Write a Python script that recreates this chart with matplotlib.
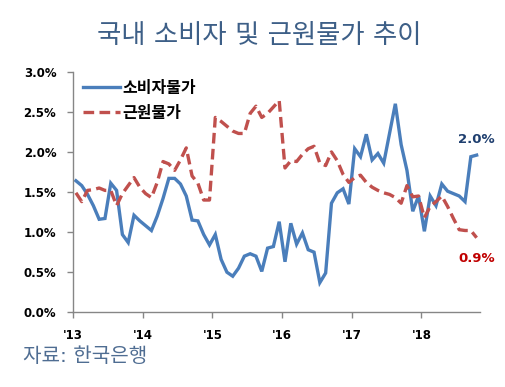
import matplotlib
matplotlib.use("Agg")
import matplotlib.pyplot as plt
import numpy as np

plt.rcParams['font.family'] = ['Noto Sans CJK KR', 'DejaVu Sans']

title = "국내 소비자 및 근원물가 추이"
source = "자료: 한국은행"
series_names = ["소비자물가", "근원물가"]
year_labels = ["'13", "'14", "'15", "'16", "'17", "'18"]
y_ticks = [0.0, 0.5, 1.0, 1.5, 2.0, 2.5, 3.0]

# monthly, Jan 2013 .. Oct 2018
cpi = [1.64, 1.58, 1.47, 1.33, 1.16, 1.17, 1.61, 1.52, 0.97, 0.87, 1.21, 1.14,
       1.08, 1.02, 1.20, 1.42, 1.67, 1.67, 1.60, 1.45, 1.15, 1.14, 0.97, 0.84,
       0.97, 0.66, 0.50, 0.45, 0.55, 0.70, 0.73, 0.70, 0.51, 0.80, 0.82, 1.13,
       0.63, 1.11, 0.85, 0.99, 0.78, 0.75, 0.37, 0.49, 1.36, 1.49, 1.54, 1.35,
       2.04, 1.94, 2.22, 1.90, 1.98, 1.86, 2.23, 2.60, 2.09, 1.77, 1.26, 1.45,
       1.01, 1.45, 1.33, 1.60, 1.51, 1.48, 1.45, 1.38, 1.94, 1.96]
core = [1.49, 1.38, 1.52, 1.53, 1.55, 1.52, 1.52, 1.33, 1.48, 1.58, 1.68, 1.56,
        1.48, 1.43, 1.62, 1.88, 1.85, 1.77, 1.90, 2.05, 1.70, 1.61, 1.40, 1.40,
        2.43, 2.38, 2.32, 2.26, 2.23, 2.23, 2.48, 2.57, 2.43, 2.48, 2.56, 2.64,
        1.80, 1.89, 1.88, 1.97, 2.04, 2.07, 1.86, 1.83, 2.00, 1.89, 1.72, 1.62,
        1.68, 1.71, 1.62, 1.56, 1.52, 1.49, 1.47, 1.43, 1.36, 1.58, 1.44, 1.45,
        1.18, 1.32, 1.38, 1.45, 1.32, 1.17, 1.03, 1.02, 1.02, 0.93]
end_labels = ["2.0%", "0.9%"]

blue = "#4a7ebb"
red = "#c0504d"

fig = plt.figure(figsize=(5.05, 3.87), dpi=100)
ax = fig.add_axes([0.1446, 0.193, 0.805, 0.6217])

x = np.arange(len(cpi))
l1, = ax.plot(x, cpi, color=blue, lw=2.4, solid_joinstyle='miter', label=series_names[0])
l2, = ax.plot(x, core, color=red, lw=2.4, ls=(0, (3.2, 1.6)), label=series_names[1])

ax.set_xlim(-0.5, len(cpi) - 0.5)
ax.set_ylim(0, 3.0)
ax.set_yticks(y_ticks)
ax.set_yticklabels([f"{v:.1f}%" for v in y_ticks], fontweight='bold', fontsize=8.5,
                   family=['DejaVu Sans'])
ax.set_xticks([-0.5 + 12 * i for i in range(len(year_labels))])
ax.set_xticklabels(year_labels, fontweight='bold', fontsize=8.5, family=['DejaVu Sans'])
for lbl in ax.get_xticklabels():
    lbl.set_x(lbl.get_position()[0])
for s in ['top', 'right']:
    ax.spines[s].set_visible(False)
for s in ['left', 'bottom']:
    ax.spines[s].set_color('#868686')
    ax.spines[s].set_linewidth(1.0)
ax.tick_params(axis='both', colors='#868686', labelcolor='black', length=4, width=1)
ax.tick_params(axis='y', pad=8)
ax.tick_params(axis='x', pad=8)

leg = ax.legend(handles=[l1, l2], loc='upper left', bbox_to_anchor=(-0.01, 1.025),
                frameon=False, prop={'weight': 'bold', 'size': 11.5},
                handlelength=2.3, handletextpad=0.15, labelspacing=0.55)

ax.annotate(end_labels[0], xy=(x[-1], cpi[-1]), xytext=(0, 11), textcoords='offset points',
            color='#1f3f6f', fontweight='bold', fontsize=9.5, ha='center', va='center',
            family=['DejaVu Sans'])
ax.annotate(end_labels[1], xy=(x[-1], core[-1]), xytext=(0, -15), textcoords='offset points',
            color='#c00000', fontweight='bold', fontsize=9.5, ha='center', va='center',
            family=['DejaVu Sans'])

fig.text(0.513, 0.908, title, ha='center', va='center', fontsize=19, color='#3d5f87',
         family=['DejaVu Sans', 'Noto Sans CJK KR'])
fig.text(0.045, 0.08, source, ha='left', va='center', fontsize=14.5, color='#4f6d92',
         family=['DejaVu Sans', 'Noto Sans CJK KR'])

fig.savefig("out.png", dpi=100)
